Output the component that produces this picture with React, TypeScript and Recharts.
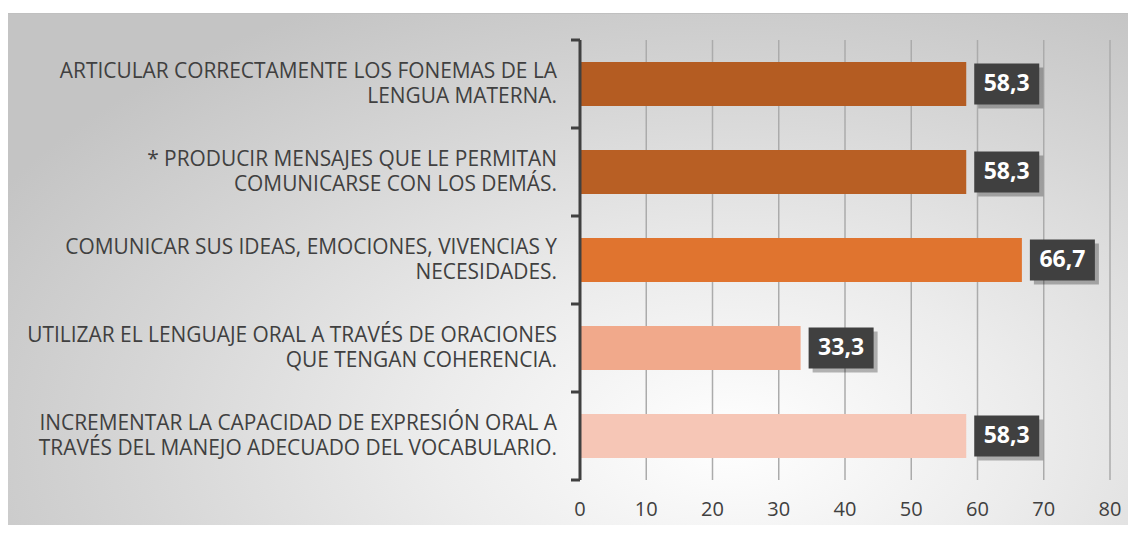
import { Bar, BarChart, CartesianGrid, Cell, LabelList, XAxis, YAxis } from 'recharts'

const categories = [
  'ARTICULAR CORRECTAMENTE LOS FONEMAS DE LA\nLENGUA MATERNA.',
  '* PRODUCIR MENSAJES QUE LE PERMITAN\nCOMUNICARSE CON LOS DEMÁS.',
  'COMUNICAR SUS IDEAS, EMOCIONES, VIVENCIAS Y\nNECESIDADES.',
  'UTILIZAR EL LENGUAJE ORAL A TRAVÉS DE ORACIONES\nQUE TENGAN COHERENCIA.',
  'INCREMENTAR LA CAPACIDAD DE EXPRESIÓN ORAL A\nTRAVÉS DEL MANEJO ADECUADO DEL VOCABULARIO.',
]
const values = [58.3, 58.3, 66.7, 33.3, 58.3]
const colors = ['#B45C22', '#B85F24', '#E0742F', '#F1A98B', '#F6C6B6']
const xTicks = [0, 10, 20, 30, 40, 50, 60, 70, 80]

const data = categories.map((name, i) => ({ name, value: values[i] }))

const W = 1136
const H = 533
const X_AXIS_H = 53
const M = { top: 40, right: 26, bottom: 0, left: 0 }
const band = (H - M.top - M.bottom - X_AXIS_H) / categories.length
const FONT = '"Open Sans", sans-serif'
const LINE_H = 24.5

function CatTick(props: any) {
  const { x, y, payload, index } = props
  const lines = String(payload.value).split('\n')
  const y0 = y + 1 - ((lines.length - 1) * LINE_H) / 2
  return (
    <g>
      {lines.map((l, i) => (
        <text key={i} x={x - 23} y={y0 + i * LINE_H} textAnchor="end" fill="#404040" fontSize={20.9} fontFamily={FONT} dominantBaseline="middle">
          {l}
        </text>
      ))}
      <line x1={x - 9} x2={x} y1={y - band / 2} y2={y - band / 2} stroke="#404040" strokeWidth={3} />
      {index === categories.length - 1 && (
        <line x1={x - 9} x2={x} y1={y + band / 2} y2={y + band / 2} stroke="#404040" strokeWidth={3} />
      )}
    </g>
  )
}

function ValueBox(props: any) {
  const { x, y, width, height, value } = props
  const bx = x + width + 8
  const bw = 65
  const bh = 41
  const by = y + height / 2 - bh / 2
  return (
    <g>
      <rect x={bx + 4} y={by + 4} width={bw} height={bh} fill="rgba(0,0,0,0.28)" />
      <rect x={bx} y={by} width={bw} height={bh} fill="#404040" />
      <text x={bx + bw / 2} y={by + bh / 2 + 1} textAnchor="middle" dominantBaseline="middle" fill="#ffffff" fontSize={23} fontWeight={700} fontFamily={FONT}>
        {String(value).replace('.', ',')}
      </text>
    </g>
  )
}

export default function App() {
  return (
    <div style={{ position: 'relative', margin: -8, width: W, height: H, overflow: 'hidden', background: '#ffffff' }}>
      <div
        style={{
          position: 'absolute', left: 7, top: 13, width: W - 7, height: H - 13,
          borderTop: '1px solid #c0c0c0', borderLeft: '1px solid #d0d0d0', boxSizing: 'border-box',
          background: 'radial-gradient(ellipse 75% 95% at 64% 82%, #ffffff 0%, #ececec 35%, #d6d6d6 70%, #c4c4c4 100%)',
        }}
      />
      <div style={{ position: 'absolute', left: 0, top: 0 }}>
        <BarChart width={W} height={H} data={data} layout="vertical" margin={M} barCategoryGap={22}>
          <CartesianGrid horizontal={false} vertical stroke="#ababab" strokeWidth={1.5} />
          <XAxis
            type="number"
            domain={[0, 80]}
            ticks={xTicks}
            height={X_AXIS_H}
            axisLine={false}
            tickLine={false}
            tickSize={0}
            tickMargin={22}
            tick={{ fill: '#404040', fontSize: 20, fontFamily: FONT }}
          />
          <YAxis
            type="category"
            dataKey="name"
            width={580}
            axisLine={{ stroke: '#404040', strokeWidth: 3 }}
            tickLine={false}
            tickSize={0}
            tickMargin={0}
            tick={<CatTick />}
            interval={0}
          />
          <Bar dataKey="value" isAnimationActive={false}>
            {data.map((_, i) => (
              <Cell key={i} fill={colors[i]} />
            ))}
            <LabelList dataKey="value" content={<ValueBox />} />
          </Bar>
        </BarChart>
      </div>
    </div>
  )
}
